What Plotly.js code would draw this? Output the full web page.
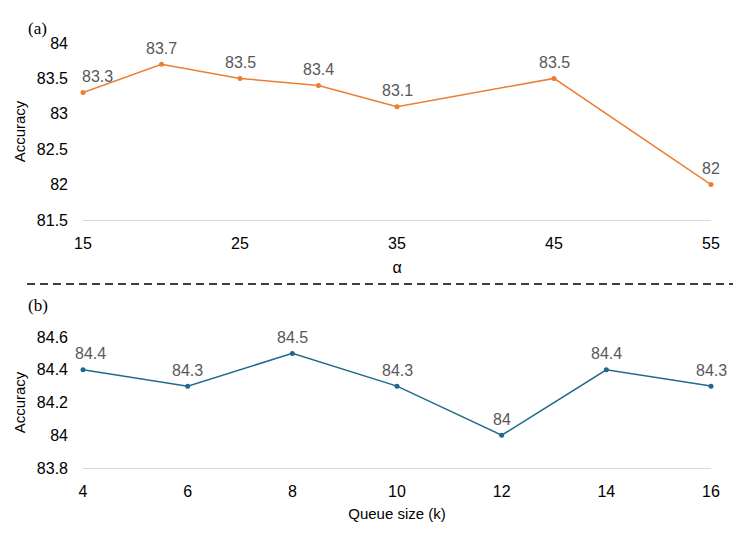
<!DOCTYPE html>
<html>
<head>
<meta charset="utf-8">
<script src="https://cdn.plot.ly/plotly-3.0.1.min.js"></script>
<style>html,body{margin:0;padding:0;background:#fff}#chart{width:747px;height:534px}</style>
</head>
<body>
<div id="chart"></div>
<script>
// Panel (a)
const alphaValues = [15, 20, 25, 30, 35, 45, 55];
const alphaAccuracy = [83.3, 83.7, 83.5, 83.4, 83.1, 83.5, 82.0];
const alphaTicks = [15, 25, 35, 45, 55];
const alphaYTicks = [81.5, 82, 82.5, 83, 83.5, 84];
const alphaYTickLabels = ['81.5', '82', '82.5', '83', '83.5', '84'];
// Panel (b)
const queueSizes = [4, 6, 8, 10, 12, 14, 16];
const queueAccuracy = [84.4, 84.3, 84.5, 84.3, 84.0, 84.4, 84.3];
const queueYTicks = [83.8, 84, 84.2, 84.4, 84.6];
const queueYTickLabels = ['83.8', '84', '84.2', '84.4', '84.6'];

const W = 747, H = 534, L = 83, R = 36;
const PW = W - L - R;
const py = p => 1 - p / H;
const px = p => (p - L) / PW;

const orange = '#ED7D31';
const blue = '#1F6A8A';
const font = 'Liberation Sans, Arial, sans-serif';

const traces = [
  {x: alphaValues, y: alphaAccuracy, xaxis: 'x', yaxis: 'y', mode: 'lines+markers',
   line: {color: orange, width: 1.5}, marker: {color: orange, size: 5}, hoverinfo: 'skip'},
  {x: queueSizes, y: queueAccuracy, xaxis: 'x2', yaxis: 'y2', mode: 'lines+markers',
   line: {color: blue, width: 1.5}, marker: {color: blue, size: 5}, hoverinfo: 'skip'}
];

const fmt = v => String(+v.toFixed(1));
const annotations = [];
alphaValues.forEach((v, i) => annotations.push({x: v, y: alphaAccuracy[i], xref: 'x', yref: 'y',
  text: fmt(alphaAccuracy[i]), showarrow: false, yshift: 16, xshift: i === 0 ? 14 : 0,
  font: {family: font, size: 16, color: '#595959'}}));
queueSizes.forEach((v, i) => annotations.push({x: v, y: queueAccuracy[i], xref: 'x2', yref: 'y2',
  text: fmt(queueAccuracy[i]), showarrow: false, yshift: 16, xshift: i === 0 ? 7 : 0,
  font: {family: font, size: 16, color: '#595959'}}));
annotations.push({x: px(26), y: py(28), xref: 'paper', yref: 'paper', xanchor: 'left', yanchor: 'middle',
  text: '(a)', showarrow: false, font: {family: 'Liberation Serif, Times New Roman, serif', size: 17, color: '#000'}});
annotations.push({x: px(26), y: py(305), xref: 'paper', yref: 'paper', xanchor: 'left', yanchor: 'middle',
  text: '(b)', showarrow: false, font: {family: 'Liberation Serif, Times New Roman, serif', size: 17, color: '#000'}});

const tickFont = {family: font, size: 16, color: '#000'};
const titleFont = {family: font, size: 15, color: '#000'};

const xCommon = {showgrid: false, zeroline: false, showline: true, linecolor: '#D9D9D9', linewidth: 1.3,
  ticks: '', tickfont: tickFont, ticklabelstandoff: 8, fixedrange: true};
const yCommon = {showgrid: false, zeroline: false, showline: false, ticks: '', tickfont: tickFont,
  ticklabelstandoff: 14, fixedrange: true};

const layout = {
  width: W, height: H,
  margin: {l: L, r: R, t: 0, b: 0},
  paper_bgcolor: '#fff', plot_bgcolor: '#fff',
  showlegend: false,
  xaxis: Object.assign({}, xCommon, {anchor: 'y', domain: [0, 1], range: [15, 55],
    tickvals: alphaTicks, ticktext: alphaTicks.map(String),
    title: {text: 'α', font: {family: font, size: 16, color: '#000'}, standoff: 11}}),
  yaxis: Object.assign({}, yCommon, {anchor: 'x', domain: [py(220), py(43)], range: [81.5, 84],
    tickvals: alphaYTicks, ticktext: alphaYTickLabels,
    title: {text: 'Accuracy', font: titleFont, standoff: 7}}),
  xaxis2: Object.assign({}, xCommon, {anchor: 'y2', domain: [0, 1], range: [4, 16],
    tickvals: queueSizes, ticktext: queueSizes.map(String),
    title: {text: 'Queue size (k)', font: titleFont, standoff: 10}}),
  yaxis2: Object.assign({}, yCommon, {anchor: 'x2', domain: [py(468), py(337)], range: [83.8, 84.6],
    tickvals: queueYTicks, ticktext: queueYTickLabels,
    title: {text: 'Accuracy', font: titleFont, standoff: 7}}),
  shapes: [{type: 'line', xref: 'paper', yref: 'paper', x0: px(27), x1: px(733), y0: py(284), y1: py(284),
    line: {color: '#000', width: 1.6, dash: '8px,5px'}}],
  annotations: annotations
};

traces.forEach(t => t.cliponaxis = false);
Plotly.newPlot('chart', traces, layout, {displayModeBar: false, staticPlot: true});
</script>
</body>
</html>
